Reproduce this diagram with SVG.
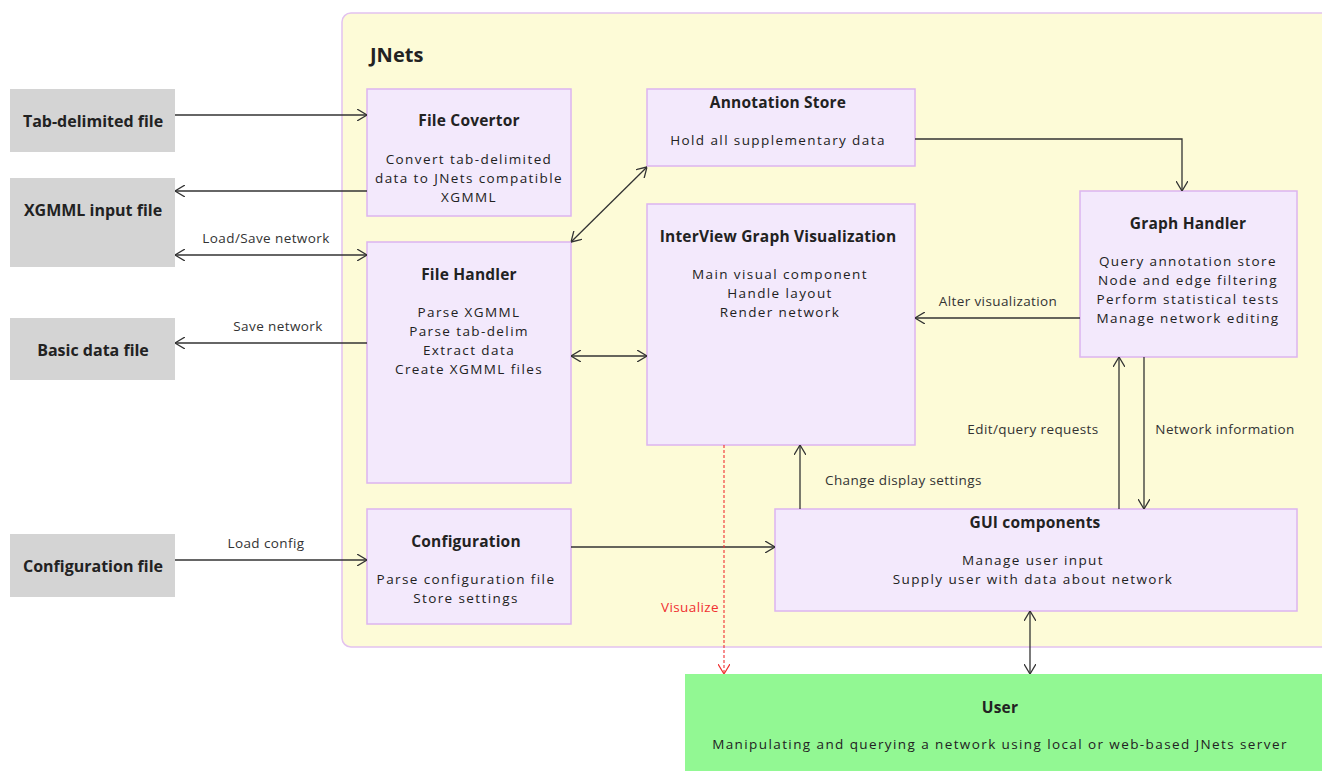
<svg xmlns="http://www.w3.org/2000/svg" width="1322" height="771" viewBox="0 0 1322 771">
<defs>
<style>
text{font-family:"Open Sans","Liberation Sans",sans-serif;fill:#222;text-anchor:middle}
.t{font-size:15.5px;font-weight:bold;letter-spacing:0.2px}
.b{font-size:13.5px;letter-spacing:1.4px}
.g{font-size:16px;font-weight:bold}
.l{font-size:13.5px;fill:#333;letter-spacing:0.4px}
.box{fill:#f3e9fc;stroke:#dcb4ef;stroke-width:1.5}
.grey{fill:#d4d4d4}
.c{fill:none;stroke:#333;stroke-width:1.3}
</style>
<marker id="a" viewBox="0 0 10 12" refX="10" refY="6" markerWidth="10" markerHeight="12" markerUnits="userSpaceOnUse" orient="auto-start-reverse">
<path d="M0,0 L10,6 L0,12" fill="none" stroke="#333" stroke-width="1.3"/>
</marker>
<marker id="r" viewBox="0 0 10 12" refX="10" refY="6" markerWidth="10" markerHeight="12" markerUnits="userSpaceOnUse" orient="auto">
<path d="M0,0 L10,6 L0,12" fill="none" stroke="#f03030" stroke-width="1.2"/>
</marker>
</defs>
<rect width="1322" height="771" fill="#fff"/>
<g id="jnets">
<rect x="342" y="13" width="990" height="634" rx="9" fill="#fdfbd7" stroke="#e2c2ef" stroke-width="1.5"/>
<text x="370" y="62" style="font-size:20px;font-weight:bold;text-anchor:start">JNets</text>
</g>
<g id="tab-file"><rect class="grey" x="10" y="89" width="165" height="63"/><text class="g" x="93" y="127">Tab-delimited file</text></g>
<g id="xgmml-file"><rect class="grey" x="10" y="178" width="165" height="89"/><text class="g" x="93" y="216">XGMML input file</text></g>
<g id="basic-file"><rect class="grey" x="10" y="318" width="165" height="62"/><text class="g" x="93" y="356">Basic data file</text></g>
<g id="config-file"><rect class="grey" x="10" y="534" width="165" height="63"/><text class="g" x="93" y="572">Configuration file</text></g>
<g id="file-covertor"><rect class="box" x="367" y="89" width="204" height="127"/>
<text class="t" x="469" y="126">File Covertor</text>
<text class="b" x="469" y="164">Convert tab-delimited</text>
<text class="b" x="469" y="183">data to JNets compatible</text>
<text class="b" x="469" y="202">XGMML</text></g>
<g id="file-handler"><rect class="box" x="367" y="242" width="204" height="241"/>
<text class="t" x="469" y="280">File Handler</text>
<text class="b" x="469" y="317">Parse XGMML</text>
<text class="b" x="469" y="336">Parse tab-delim</text>
<text class="b" x="469" y="355">Extract data</text>
<text class="b" x="469" y="374">Create XGMML files</text></g>
<g id="configuration"><rect class="box" x="367" y="509" width="204" height="115"/>
<text class="t" x="466" y="547">Configuration</text>
<text class="b" x="466" y="584">Parse configuration file</text>
<text class="b" x="466" y="603">Store settings</text></g>
<g id="annotation-store"><rect class="box" x="647" y="89" width="268" height="77"/>
<text class="t" x="778" y="108">Annotation Store</text>
<text class="b" x="778" y="145">Hold all supplementary data</text></g>
<g id="interview"><rect class="box" x="647" y="204" width="268" height="241"/>
<text class="t" x="778" y="242">InterView Graph Visualization</text>
<text class="b" x="780" y="279">Main visual component</text>
<text class="b" x="780" y="298">Handle layout</text>
<text class="b" x="780" y="317">Render network</text></g>
<g id="graph-handler"><rect class="box" x="1080" y="191" width="217" height="166"/>
<text class="t" x="1188" y="229">Graph Handler</text>
<text class="b" x="1188" y="266">Query annotation store</text>
<text class="b" x="1188" y="285">Node and edge filtering</text>
<text class="b" x="1188" y="304">Perform statistical tests</text>
<text class="b" x="1188" y="323">Manage network editing</text></g>
<g id="gui"><rect class="box" x="775" y="509" width="522" height="102"/>
<text class="t" x="1035" y="528">GUI components</text>
<text class="b" x="1033" y="565">Manage user input</text>
<text class="b" x="1033" y="584">Supply user with data about network</text></g>
<g id="user"><rect x="685" y="674" width="637" height="97" fill="#92f893"/>
<text class="t" x="1000" y="713">User</text>
<text class="b" x="1000" y="749">Manipulating and querying a network using local or web-based JNets server</text></g>
<g id="connectors">
<path class="c" d="M175,115 H367" marker-end="url(#a)"/>
<path class="c" d="M367,191 H175" marker-end="url(#a)"/>
<path class="c" d="M175,255 H367" marker-start="url(#a)" marker-end="url(#a)"/>
<path class="c" d="M367,343 H175" marker-end="url(#a)"/>
<path class="c" d="M175,560 H367" marker-end="url(#a)"/>
<path class="c" d="M571,242 L647,167" marker-start="url(#a)" marker-end="url(#a)"/>
<path class="c" d="M571,356 H647" marker-start="url(#a)" marker-end="url(#a)"/>
<path class="c" d="M915,139 H1182 V191" marker-end="url(#a)"/>
<path class="c" d="M1080,318 H915" marker-end="url(#a)"/>
<path class="c" d="M1119,509 V357" marker-end="url(#a)"/>
<path class="c" d="M1144,357 V509" marker-end="url(#a)"/>
<path class="c" d="M800,509 V445" marker-end="url(#a)"/>
<path class="c" d="M571,547 H775" marker-end="url(#a)"/>
<path class="c" d="M1030,611 V674" marker-start="url(#a)" marker-end="url(#a)"/>
<path d="M724,445 V674" fill="none" stroke="#f03030" stroke-width="1.1" stroke-dasharray="3,2" marker-end="url(#r)"/>
<text class="l" x="266" y="243">Load/Save network</text>
<text class="l" x="278" y="331">Save network</text>
<text class="l" x="266" y="548">Load config</text>
<text class="l" x="998" y="306">Alter visualization</text>
<text class="l" x="1033" y="434">Edit/query requests</text>
<text class="l" x="1225" y="434">Network information</text>
<text class="l" x="825" y="485" style="text-anchor:start">Change display settings</text>
<text class="l" x="719" y="612" style="text-anchor:end;fill:#f03030">Visualize</text>
</g>
</svg>
